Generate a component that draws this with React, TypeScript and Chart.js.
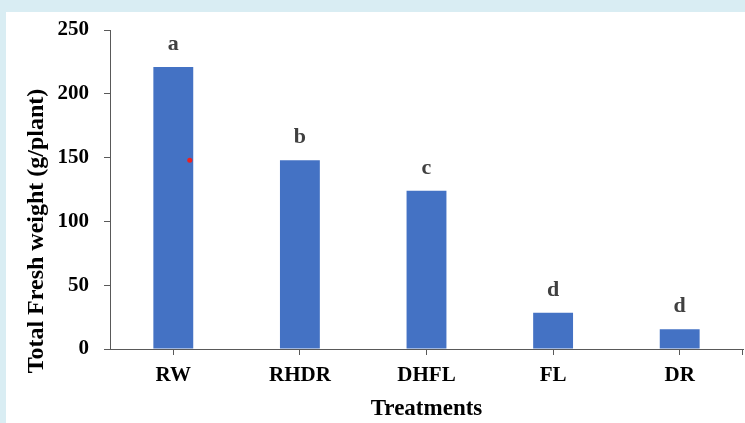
import React, { useEffect, useRef } from "react";
import { Chart, registerables } from "chart.js";

Chart.register(...registerables);

const categories = ["RW", "RHDR", "DHFL", "FL", "DR"];
const freshWeight = [221, 148, 124, 28.4, 15.4];
const groupLetters = ["a", "b", "c", "d", "d"];
const yTicks = [0, 50, 100, 150, 200, 250];
const yTitle = "Total Fresh weight (g/plant)";
const xTitle = "Treatments";
// small red mark beside the RW bar (category position, value)
const markerPoint = { x: 0.13, y: 148 };

const SERIF = "'Liberation Serif', 'Times New Roman', serif";

const letterPlugin = {
  id: "groupLetters",
  afterDatasetsDraw(chart: any) {
    const meta = chart.getDatasetMeta(0);
    const ctx = chart.ctx;
    const { left, right, bottom } = chart.chartArea;
    ctx.save();
    ctx.font = `bold 22px ${SERIF}`;
    ctx.fillStyle = "#404040";
    ctx.textAlign = "center";
    ctx.textBaseline = "alphabetic";
    meta.data.forEach((bar: any, i: number) => {
      ctx.fillText(groupLetters[i], bar.x, bar.y - 17);
    });
    // red marker
    const mx = chart.scales.x.getPixelForValue(markerPoint.x);
    const my = chart.scales.y.getPixelForValue(markerPoint.y);
    ctx.fillStyle = "#ee2020";
    ctx.beginPath();
    ctx.arc(mx, my, 2.5, 0, Math.PI * 2);
    ctx.fill();
    // end tick at the right of the x axis
    ctx.strokeStyle = "#595959";
    ctx.lineWidth = 1;
    ctx.beginPath();
    ctx.moveTo(Math.round(right) - 0.5, bottom);
    ctx.lineTo(Math.round(right) - 0.5, bottom + 6);
    ctx.stroke();
    // y axis title (placed like the original, lower than the plot centre)
    ctx.translate(left - 73, bottom - 118);
    ctx.rotate(-Math.PI / 2);
    ctx.font = `bold 24px ${SERIF}`;
    ctx.fillStyle = "#000";
    ctx.textAlign = "center";
    ctx.textBaseline = "middle";
    ctx.fillText(yTitle, 0, 0);
    ctx.restore();
  },
};

export default function App() {
  const ref = useRef<HTMLCanvasElement>(null);
  useEffect(() => {
    document.body.style.margin = "0";
    const chart = new Chart(ref.current!, {
      type: "bar",
      data: {
        labels: categories,
        datasets: [
          {
            data: freshWeight,
            backgroundColor: "#4472C4",
            borderWidth: 0,
            barPercentage: 0.63,
            categoryPercentage: 0.5,
          },
        ],
      },
      options: {
        animation: false,
        responsive: false,
        layout: { padding: { left: 0, top: 18, right: 2, bottom: 0 } },
        plugins: { legend: { display: false }, tooltip: { enabled: false } },
        scales: {
          x: {
            type: "category",
            offset: true,
            grid: {
              display: true,
              drawOnChartArea: false,
              drawTicks: true,
              tickLength: 6,
              offset: false,
              color: "#595959",
            },
            border: { display: true, color: "#595959", width: 1 },
            ticks: {
              color: "#000",
              font: { family: SERIF, size: 21, weight: "bold" },
              padding: 8,
            },
            title: {
              display: true,
              text: xTitle,
              color: "#000",
              font: { family: SERIF, size: 23, weight: "bold" },
              padding: { top: 0, bottom: 0 },
            },
            afterFit(scale: any) {
              scale.height = 74;
              scale.paddingLeft = 0;
              scale.paddingRight = 0;
            },
          },
          y: {
            min: 0,
            max: 250,
            afterBuildTicks(scale: any) {
              scale.ticks = yTicks.map((v) => ({ value: v }));
            },
            grid: {
              display: true,
              drawOnChartArea: false,
              drawTicks: true,
              tickLength: 6,
              color: "#595959",
            },
            border: { display: true, color: "#595959", width: 1 },
            ticks: {
              color: "#000",
              font: { family: SERIF, size: 21, weight: "bold" },
              padding: 15,
            },
            title: { display: false },
            afterFit(scale: any) {
              scale.width = 104;
              scale.paddingTop = 0;
              scale.paddingBottom = 0;
            },
          },
        },
      } as any,
      plugins: [letterPlugin],
    });
    return () => chart.destroy();
  }, []);

  return (
    <div
      style={{
        position: "relative",
        width: 745,
        height: 423,
        background: "#d9edf3",
        overflow: "hidden",
      }}
    >
      <div
        style={{
          position: "absolute",
          left: 6,
          top: 12,
          width: 739,
          height: 411,
          background: "#ffffff",
        }}
      >
        <canvas ref={ref} width={739} height={411} style={{ display: "block" }} />
      </div>
    </div>
  );
}
